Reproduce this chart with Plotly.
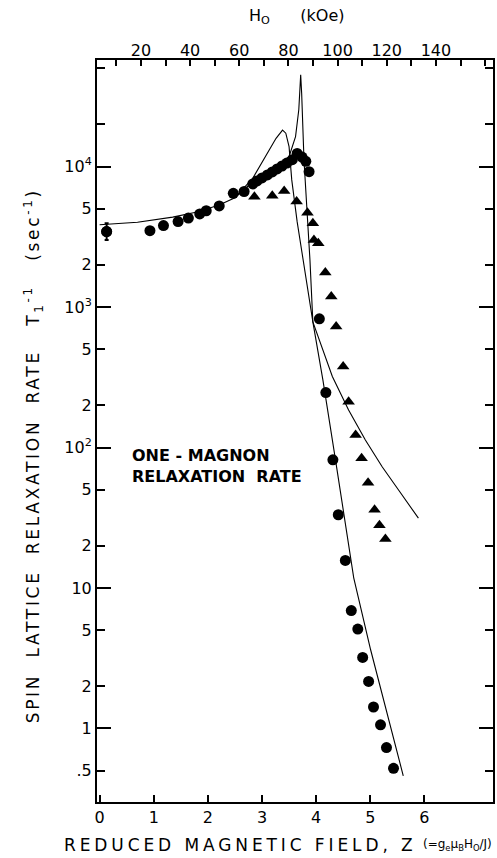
import plotly.graph_objects as go

# ---- data ----
circle_z = [0.13, 0.93, 1.18, 1.45, 1.64, 1.85, 1.97, 2.21, 2.47, 2.67, 2.83, 2.91, 3.00, 3.10,
            3.19, 3.28, 3.37, 3.46, 3.56, 3.65, 3.74, 3.81, 3.87, 4.06, 4.18, 4.31, 4.41, 4.54,
            4.65, 4.77, 4.86, 4.97, 5.06, 5.19, 5.30, 5.43]
circle_rate = [3450, 3500, 3800, 4060, 4300, 4600, 4850, 5250, 6450, 6650, 7530, 7910, 8310, 8730,
               9170, 9630, 10100, 10600, 11200, 12400, 11700, 10900, 9200, 824, 246, 81.7, 33.2, 15.7,
               6.9, 5.1, 3.2, 2.16, 1.42, 1.06, 0.73, 0.52]

first_err_plus = [500]
first_err_minus = [450]

triangle_z = [2.86, 3.19, 3.41, 3.64, 3.84, 3.94, 3.96, 4.04, 4.17, 4.28, 4.37, 4.50, 4.60, 4.73,
              4.84, 4.96, 5.08, 5.17, 5.28]
triangle_rate = [6100, 6200, 6700, 5650, 4700, 3950, 3000, 2850, 1760, 1190, 726, 377, 212, 123,
                 84, 56, 36, 28, 22.3]

curveA_z = [0.0, 0.7, 1.35, 1.8, 2.21, 2.5, 2.83, 3.07, 3.26, 3.38, 3.44, 3.50, 3.55, 3.65, 3.78,
            3.87, 3.94, 4.30, 4.60, 4.91, 5.22, 5.52, 5.89]
curveA_rate = [3850, 4020, 4370, 4750, 5330, 6000, 8270, 11800, 15900, 18200, 17300, 13900, 8040,
               4040, 1900, 1125, 785, 320, 185, 113, 73, 50, 31.4]

curveB_z = [2.5, 2.83, 3.19, 3.50, 3.62, 3.68, 3.715, 3.733, 3.776, 3.836, 3.886, 3.94, 4.125,
            4.358, 4.695, 5.007, 5.43, 5.61]
curveB_rate = [6000, 7800, 9480, 11780, 16360, 25400, 45000, 33300, 11160, 4920, 2170, 785, 303,
               81.7, 11.8, 3.63, 0.83, 0.46]

x_ticks = [0, 1, 2, 3, 4, 5, 6]
y_ticks = [0.5, 1, 2, 5, 10, 20, 50, 100, 200, 500, 1000, 2000, 5000, 10000, 20000, 50000]
y_ticktext = [".5", "1", "2", "5", "10", "2", "5", "10<sup>2</sup>", "2", "5", "10<sup>3</sup>",
              "2", "5", "10<sup>4</sup>", "", ""]
y_decades = [1, 10, 100, 1000, 10000]
top_ticks = [10, 20, 30, 40, 50, 60, 70, 80, 90, 100, 110, 120, 130, 140, 150, 160]
top_ticktext = ["", "20", "", "40", "", "60", "", "80", "", "100", "", "120", "", "140", "", ""]

y_title = "SPIN  LATTICE  RELAXATION  RATE   T<sub>1</sub><sup>-1</sup>   (sec<sup>-1</sup>)"
x_title_words = "REDUCED MAGNETIC FIELD, Z"
x_title_tail = "(=g<sub>e</sub>\u03bc<sub>B</sub>H<sub>O</sub>/J)"

FONT = "DejaVu Sans"
W, H = 497, 858
L, R, T, B = 97, 2, 60, 56
PW, PH = W - L - R, H - T - B


def px_x(px):
    return (px - L) / PW


def px_y(py):
    return (H - B - py) / PH


fig = go.Figure()

line_style = dict(color="black", width=1.1)
fig.add_trace(go.Scatter(x=curveA_z, y=curveA_rate, mode="lines", line=line_style, hoverinfo="skip"))
fig.add_trace(go.Scatter(x=curveB_z, y=curveB_rate, mode="lines", line=line_style, hoverinfo="skip"))

fig.add_trace(go.Scatter(x=triangle_z, y=triangle_rate, mode="markers",
                         marker=dict(symbol="triangle-up", size=11, color="black")))
fig.add_trace(go.Scatter(x=circle_z, y=circle_rate, mode="markers",
                         marker=dict(symbol="circle", size=11, color="black")))
fig.add_trace(go.Scatter(x=circle_z[:1], y=circle_rate[:1], mode="markers",
                         marker=dict(symbol="circle", size=11, color="black"),
                         error_y=dict(type="data", array=first_err_plus, arrayminus=first_err_minus,
                                      color="black", thickness=2, width=2)))

# dummy traces for auxiliary axes
fig.add_trace(go.Scatter(x=[None], y=[None], xaxis="x2", yaxis="y", showlegend=False))
fig.add_trace(go.Scatter(x=[None], y=[None], xaxis="x", yaxis="y2", showlegend=False))

fig.update_layout(
    width=W, height=H,
    margin=dict(l=L, r=R, t=T, b=B),
    plot_bgcolor="white", paper_bgcolor="white",
    showlegend=False,
    font=dict(family=FONT, color="black"),
    xaxis=dict(range=[-0.048, 7.268], tickvals=x_ticks, ticktext=[str(v) for v in x_ticks],
               ticks="inside", ticklen=7, tickwidth=1.5, tickcolor="black",
               showline=True, linewidth=2, linecolor="black", mirror=True,
               showgrid=False, zeroline=False, tickfont=dict(size=16, family=FONT)),
    xaxis2=dict(overlaying="x", side="top", anchor="y", range=[2.14, 163.2],
                tickvals=top_ticks, ticktext=top_ticktext, ticks="inside", ticklen=6,
                tickwidth=1.5, tickcolor="black", showline=False, showgrid=False, zeroline=False,
                tickfont=dict(size=16, family=FONT)),
    yaxis=dict(type="log", range=[-0.524, 4.759], tickvals=y_ticks, ticktext=y_ticktext,
               ticks="inside", ticklen=8, tickwidth=1.5, tickcolor="black",
               showline=True, linewidth=2, linecolor="black", mirror="ticks",
               showgrid=False, zeroline=False, tickfont=dict(size=16, family=FONT)),
    yaxis2=dict(type="log", overlaying="y", side="left", anchor="x", range=[-0.524, 4.759],
                tickvals=y_decades, ticks="inside", ticklen=14, tickwidth=1.5, tickcolor="black",
                showticklabels=False, showline=False, showgrid=False, zeroline=False,
                mirror="ticks"),
)

# annotation 0: y title (letter-spaced via CSS below)
fig.add_annotation(text=y_title, textangle=-90, xref="paper", yref="paper",
                   x=px_x(33), y=px_y(725), xanchor="center", yanchor="bottom", align="left",
                   showarrow=False, font=dict(size=17, family=FONT, color="black"))
# annotation 1: x title words (letter-spaced)
fig.add_annotation(text=x_title_words, xref="paper", yref="paper",
                   x=px_x(62), y=px_y(845), xanchor="left", yanchor="middle", align="left",
                   showarrow=False, font=dict(size=17, family=FONT, color="black"))
# annotation 2: x title formula
fig.add_annotation(text=x_title_tail, xref="paper", yref="paper",
                   x=px_x(496), y=px_y(845), xanchor="right", yanchor="middle",
                   showarrow=False, font=dict(size=12, family=FONT, color="black"))
fig.add_annotation(text="H<sub>O</sub>      (kOe)",
                   xref="paper", yref="paper", x=px_x(298), y=px_y(17),
                   xanchor="center", yanchor="middle", showarrow=False,
                   font=dict(size=16, family=FONT, color="black"))
fig.add_annotation(text="<b>ONE - MAGNON<br>RELAXATION  RATE</b>",
                   xref="paper", yref="paper", x=px_x(130), y=px_y(466.5),
                   xanchor="left", yanchor="middle", align="left", showarrow=False,
                   font=dict(size=16, family=FONT, color="black"))

post_js = """
var st = document.createElement('style');
st.textContent = 'g.annotation[data-index="0"] text{letter-spacing:2.7px;}' +
                 'g.annotation[data-index="1"] text{letter-spacing:3.9px;}';
document.head.appendChild(st);
"""

fig.write_html("out.html", post_script=post_js)
